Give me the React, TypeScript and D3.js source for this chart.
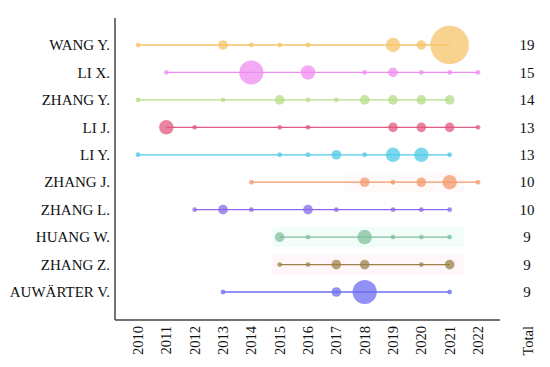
import React from "react";
import * as d3 from "d3";

// authors top to bottom, with their totals
const authors = ["WANG Y.", "LI X.", "ZHANG Y.", "LI J.", "LI Y.", "ZHANG J.", "ZHANG L.", "HUANG W.", "ZHANG Z.", "AUWÄRTER V."];
const totals = [19, 15, 14, 13, 13, 10, 10, 9, 9, 9];
const years = [2010, 2011, 2012, 2013, 2014, 2015, 2016, 2017, 2018, 2019, 2020, 2021, 2022];

// papers per year, one [year, count] list for each author
const wangY = [[2010, 1], [2013, 2], [2014, 1], [2015, 1], [2016, 1], [2019, 3], [2020, 2], [2021, 8]];
const liX = [[2011, 1], [2014, 5], [2016, 3], [2018, 1], [2019, 2], [2020, 1], [2021, 1], [2022, 1]];
const zhangY = [[2010, 1], [2013, 1], [2015, 2], [2016, 1], [2017, 1], [2018, 2], [2019, 2], [2020, 2], [2021, 2]];
const liJ = [[2011, 3], [2012, 1], [2015, 1], [2016, 1], [2019, 2], [2020, 2], [2021, 2], [2022, 1]];
const liY = [[2010, 1], [2015, 1], [2016, 1], [2017, 2], [2018, 1], [2019, 3], [2020, 3], [2021, 1]];
const zhangJ = [[2014, 1], [2018, 2], [2019, 1], [2020, 2], [2021, 3], [2022, 1]];
const zhangL = [[2012, 1], [2013, 2], [2014, 1], [2016, 2], [2017, 1], [2019, 1], [2020, 1], [2021, 1]];
const huangW = [[2015, 2], [2016, 1], [2018, 3], [2019, 1], [2020, 1], [2021, 1]];
const zhangZ = [[2015, 1], [2016, 1], [2017, 2], [2018, 2], [2020, 1], [2021, 2]];
const auwarterV = [[2013, 1], [2017, 2], [2018, 5], [2021, 1]];
const series = [wangY, liX, zhangY, liJ, liY, zhangJ, zhangL, huangW, zhangZ, auwarterV];

const colors = ["#f5c46a", "#f08cf0", "#b5dc88", "#e25a80", "#4fcbe6", "#f39a6c", "#8a6aee", "#7fbf9c", "#9c8248", "#6e6ef2"];

// faint highlight bands behind some rows
const bands = [
  { author: "ZHANG J.", from: 2017.3, to: 2021.5, color: "#fefafa" },
  { author: "HUANG W.", from: 2014.75, to: 2021.5, color: "#f2fdfa" },
  { author: "ZHANG Z.", from: 2014.75, to: 2021.5, color: "#fef6f8" },
];

const width = 550;
const height = 367;
const font = "Liberation Serif, Times New Roman, DejaVu Serif, serif";

export default function App() {
  const x = d3.scaleLinear().domain([2010, 2022]).range([138, 478]);
  const y = d3.scalePoint<string>().domain(authors).range([45, 292]);
  const r = d3.scaleLinear().domain([0, 8]).range([0, 19.3]);

  const axisLeft = 115;
  const axisTop = 18;
  const axisBottom = 320;
  const axisRight = 500;
  const txt = { fontFamily: font, fontSize: 15, fill: "#111" };
  const tickTxt = { fontFamily: font, fontSize: 14.5, fill: "#111" };

  return (
    <div style={{ position: "absolute", left: 0, top: 0 }}>
      <svg width={width} height={height} style={{ display: "block", background: "#fff" }}>
        {bands.map((b) => (
          <rect key={b.author} x={x(b.from)} y={(y(b.author) as number) - 10}
            width={x(b.to) - x(b.from)} height={20} fill={b.color} />
        ))}
        {series.map((pts, i) => {
          const cy = y(authors[i]) as number;
          const ext = d3.extent(pts, (d) => d[0]) as [number, number];
          return (
            <g key={authors[i]}>
              <line x1={x(ext[0])} x2={x(ext[1])} y1={cy} y2={cy} stroke={colors[i]} strokeWidth={1.3} />
              {pts.map((d) => (
                <circle key={d[0]} cx={x(d[0])} cy={cy} r={r(d[1])} fill={colors[i]} fillOpacity={0.75} />
              ))}
              <text x={110} y={cy} dy="0.35em" textAnchor="end" style={txt}>{authors[i]}</text>
              <text x={527} y={cy} dy="0.35em" textAnchor="middle" style={txt}>{totals[i]}</text>
            </g>
          );
        })}
        <line x1={axisLeft} x2={axisLeft} y1={axisTop} y2={axisBottom} stroke="#444" strokeWidth={1.5} />
        <line x1={axisLeft} x2={axisRight} y1={axisBottom} y2={axisBottom} stroke="#444" strokeWidth={1.5} />
        {years.map((yr) => (
          <text key={yr} transform={`translate(${x(yr)},${axisBottom + 6}) rotate(-90)`} dy="0.35em"
            textAnchor="end" style={tickTxt}>{yr}</text>
        ))}
        <text transform={`translate(528,${axisBottom + 6}) rotate(-90)`} dy="0.35em"
          textAnchor="end" style={tickTxt}>Total</text>
      </svg>
    </div>
  );
}
